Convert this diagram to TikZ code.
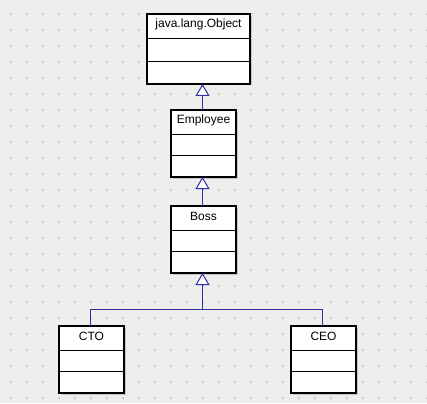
\documentclass[tikz,border=0pt]{standalone}
\usepackage{fontspec}
\setmainfont{Liberation Sans}
\usetikzlibrary{arrows.meta,calc}
\definecolor{bgc}{HTML}{EEEEEE}
\definecolor{dotc}{HTML}{CACACA}
\definecolor{linkc}{RGB}{48,48,165}
\definecolor{shadowc}{HTML}{C8C8C8}
\tikzset{
  classbox/.style={draw=black, fill=white, line width=1.1pt, inner sep=0pt, outer sep=0pt, rectangle},
  divider/.style={draw=black, line width=0.9pt},
  classtitle/.style={inner sep=0pt, font=\fontsize{12pt}{14pt}\selectfont, anchor=base},
  link/.style={draw=linkc, line width=1pt},
  inherit/.style={link, -{Triangle[length=12pt,width=14pt,fill=white,line width=1pt]}},
}
\begin{document}
\begin{tikzpicture}[x=1pt,y=-1pt]
\useasboundingbox (0,0) rectangle (427,403);
\fill[bgc] (0,0) rectangle (427,403);
\foreach \i in {0,...,26}{
  \foreach \j in {0,...,24}{
    \fill[dotc] (10+16*\i,13+16*\j) rectangle ++(2,2);
  }
}
% shadows
\fill[shadowc] (149,16) rectangle (251.5,85.5);
\fill[shadowc] (173,112) rectangle (237.5,178.5);
\fill[shadowc] (173,208) rectangle (237.5,274.5);
\fill[shadowc] (61,328) rectangle (125.5,395);
\fill[shadowc] (293,328) rectangle (357.5,395);
% classes
\node[classbox, minimum width=103pt, minimum height=70pt] (obj) at (198.5,49) {};
\draw[divider] ($(obj.north west)+(0,24)$) -- ($(obj.north east)+(0,24)$);
\draw[divider] ($(obj.north west)+(0,47)$) -- ($(obj.north east)+(0,47)$);
\node[classtitle] (objt) at ($(obj.north)+(0,14)$) {java.lang.Object};

\node[classbox, minimum width=65pt, minimum height=67pt] (emp) at (203.5,143.5) {};
\draw[divider] ($(emp.north west)+(0,24)$) -- ($(emp.north east)+(0,24)$);
\draw[divider] ($(emp.north west)+(0,45)$) -- ($(emp.north east)+(0,45)$);
\node[classtitle] (empt) at ($(emp.north)+(0,14)$) {Employee};

\node[classbox, minimum width=65pt, minimum height=67pt] (boss) at (203.5,239.5) {};
\draw[divider] ($(boss.north west)+(0,24)$) -- ($(boss.north east)+(0,24)$);
\draw[divider] ($(boss.north west)+(0,45)$) -- ($(boss.north east)+(0,45)$);
\node[classtitle] (bosst) at ($(boss.north)+(0,14)$) {Boss};

\node[classbox, minimum width=65pt, minimum height=67pt] (cto) at (91.5,359.5) {};
\draw[divider] ($(cto.north west)+(0,24)$) -- ($(cto.north east)+(0,24)$);
\draw[divider] ($(cto.north west)+(0,45)$) -- ($(cto.north east)+(0,45)$);
\node[classtitle] (ctot) at ($(cto.north)+(0,14)$) {CTO};

\node[classbox, minimum width=65pt, minimum height=67pt] (ceo) at (323.5,359.5) {};
\draw[divider] ($(ceo.north west)+(0,24)$) -- ($(ceo.north east)+(0,24)$);
\draw[divider] ($(ceo.north west)+(0,45)$) -- ($(ceo.north east)+(0,45)$);
\node[classtitle] (ceot) at ($(ceo.north)+(0,14)$) {CEO};

% connectors
\coordinate (j) at (202.5,309.5);
\draw[inherit] ([xshift=-1pt]emp.north) -- ([xshift=-1pt]emp.north |- obj.south);
\draw[inherit] ([xshift=-1pt]boss.north) -- ([xshift=-1pt]boss.north |- emp.south);
\draw[link] ([xshift=-1pt]cto.north) -- ([xshift=-1pt]cto.north |- j) -- (j);
\draw[link] ([xshift=-1pt]ceo.north) -- ([xshift=-1pt]ceo.north |- j) -- (j);
\draw[inherit] (j) -- (j |- boss.south);
\end{tikzpicture}
\end{document}
